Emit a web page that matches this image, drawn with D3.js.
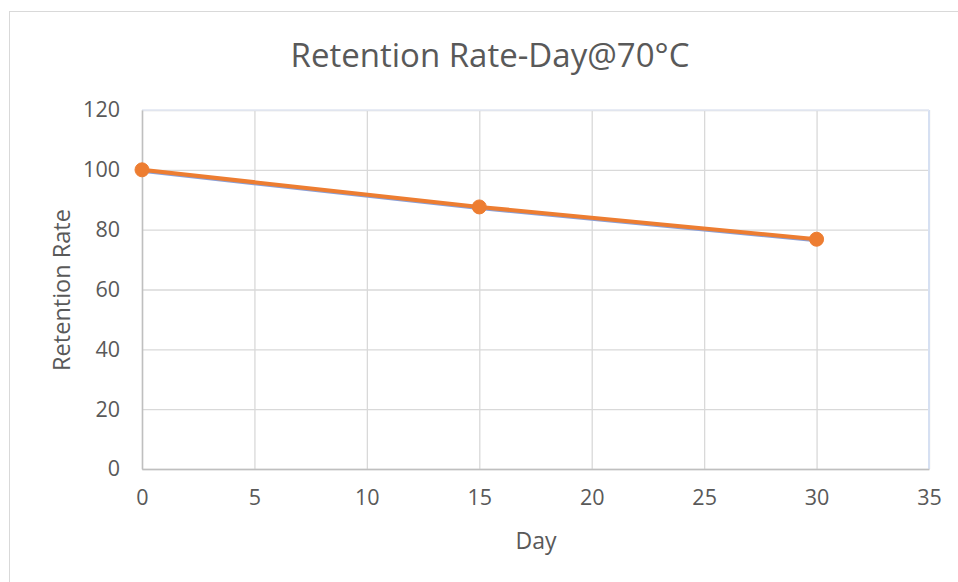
<!DOCTYPE html>
<html>
<head>
<meta charset="utf-8">
<script src="https://cdn.jsdelivr.net/npm/d3@7"></script>
<style>
body { margin: 0; background: #fff; }
text { font-family: "Open Sans", "Noto Sans", sans-serif; fill: #595959; }
</style>
</head>
<body>
<div class="graph"></div>
<script>
// data
var days = [0, 15, 30];
var retention = [100, 87.6, 76.8];
var xTicks = [0, 5, 10, 15, 20, 25, 30, 35];
var yTicks = [0, 20, 40, 60, 80, 100, 120];

var width = 958, height = 582;
var margin = {top: 110, right: 29, bottom: 113, left: 142};
var plot_w = width - margin.left - margin.right;
var plot_h = height - margin.top - margin.bottom;

var svg = d3.select(".graph").append("svg")
    .attr("width", width)
    .attr("height", height);

// chart frame
svg.append("rect")
    .attr("x", 9.5).attr("y", 11.5)
    .attr("width", 960).attr("height", 600)
    .attr("fill", "none")
    .attr("stroke", "#d9d9d9");

var xScale = d3.scaleLinear().domain([0, 35]).range([0, plot_w]);
var yScale = d3.scaleLinear().domain([0, 120]).range([plot_h, 0]);

var g = svg.append("g")
    .attr("transform", "translate(" + margin.left + "," + margin.top + ")");

// gridlines
g.append("g")
    .attr("class", "grid")
    .call(d3.axisLeft(yScale).tickValues(yTicks).tickSize(-plot_w).tickFormat(""))
    .call(function(s) { s.select(".domain").remove(); })
    .selectAll("line").attr("stroke", "#d9d9d9").attr("stroke-width", 1.3);

g.append("g")
    .attr("class", "grid")
    .attr("transform", "translate(0," + plot_h + ")")
    .call(d3.axisBottom(xScale).tickValues(xTicks).tickSize(-plot_h).tickFormat(""))
    .call(function(s) { s.select(".domain").remove(); })
    .selectAll("line").attr("stroke", "#d9d9d9").attr("stroke-width", 1.3);

// right/top edge of plot area, light blue
g.append("line")
    .attr("x1", plot_w).attr("x2", plot_w)
    .attr("y1", 0).attr("y2", plot_h)
    .attr("stroke", "#d6e0f2").attr("stroke-width", 2);
g.append("line")
    .attr("x1", 0).attr("x2", plot_w)
    .attr("y1", 0).attr("y2", 0)
    .attr("stroke", "#e3e9f5").attr("stroke-width", 1.5);

// axes
var xAxis = g.append("g")
    .attr("transform", "translate(0," + plot_h + ")")
    .call(d3.axisBottom(xScale).tickValues(xTicks).tickSize(0).tickPadding(21));
xAxis.select(".domain").attr("stroke", "#bfbfbf").attr("stroke-width", 1.5);
xAxis.selectAll("text").style("font-size", "21.5px").style("font-family", null);

var yAxis = g.append("g")
    .call(d3.axisLeft(yScale).tickValues(yTicks).tickSize(0).tickPadding(22));
yAxis.select(".domain").attr("stroke", "#bfbfbf").attr("stroke-width", 1.5);
yAxis.selectAll("text").style("font-size", "21.5px").style("font-family", null);

// series
var pts = days.map(function(d, i) { return {day: d, val: retention[i]}; });
var line = d3.line()
    .x(function(d) { return xScale(d.day); })
    .y(function(d) { return yScale(d.val); });

// faint blue series sitting under the orange one
g.append("path")
    .datum(pts)
    .attr("d", line)
    .attr("transform", "translate(0,1.5)")
    .attr("fill", "none")
    .attr("stroke", "#8a9fd6")
    .attr("stroke-width", 3);

g.append("path")
    .datum(pts)
    .attr("d", line)
    .attr("fill", "none")
    .attr("stroke", "#ed7d31")
    .attr("stroke-width", 4);

g.selectAll(".dot")
    .data(pts)
    .enter().append("circle")
    .attr("class", "dot")
    .attr("cx", function(d) { return xScale(d.day); })
    .attr("cy", function(d) { return yScale(d.val); })
    .attr("r", 7)
    .attr("fill", "#ed7d31")
    .attr("stroke", "#ed7d31")
    .attr("stroke-width", 1);

// titles
svg.append("text")
    .attr("x", 490).attr("y", 67)
    .attr("text-anchor", "middle")
    .style("font-size", "33px")
    .text("Retention Rate-Day@70°C");

svg.append("text")
    .attr("x", 536).attr("y", 549)
    .attr("text-anchor", "middle")
    .style("font-size", "23px")
    .text("Day");

svg.append("text")
    .attr("transform", "translate(70,290) rotate(-90)")
    .attr("text-anchor", "middle")
    .style("font-size", "23.5px")
    .text("Retention Rate");
</script>
</body>
</html>
